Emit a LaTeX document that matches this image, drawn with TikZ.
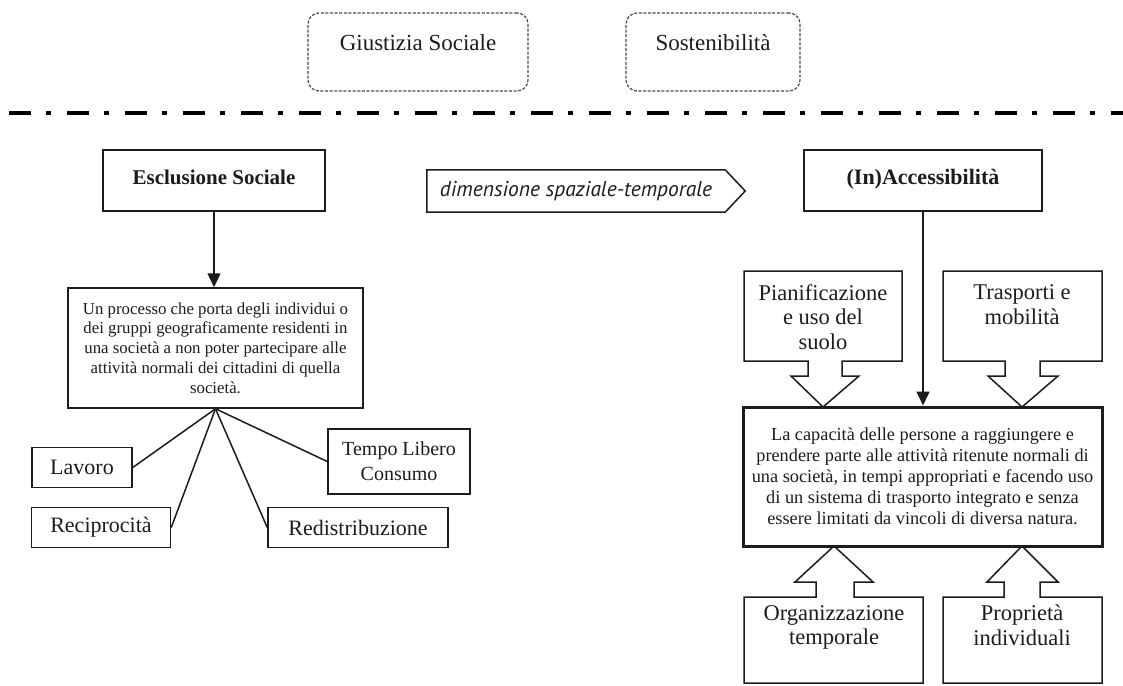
\documentclass[tikz,border=0pt]{standalone}
\usepackage{fontspec}
\setmainfont{Liberation Serif}
\newfontfamily\dimfont{PT Sans}
\usetikzlibrary{arrows.meta,calc}
\definecolor{ink}{HTML}{1C1C1C}
\newcommand\fsz[2]{\fontsize{#1}{#2}\selectfont}

\begin{document}
\begin{tikzpicture}[x=1pt,y=-1pt,
  box/.style={draw=ink, line width=1.5pt, text=ink, inner sep=0pt},
  dashbox/.style={draw=ink!80, line width=1.2pt, dash pattern=on 3pt off 1.6pt,
                  rounded corners=11pt, text=ink, inner sep=0pt},
  lbl/.style={text=ink, inner sep=0pt, align=center},
  conn/.style={draw=ink, line width=1.5pt},
  tip/.style={-{Triangle[length=14pt,width=13pt]}},
  divider/.style={draw=black, line width=4.5pt, dash pattern=on 22pt off 15pt on 5pt off 16pt}
]
\useasboundingbox (0,0) rectangle (1123,685);

% --- themes above the divider
\node[dashbox, minimum width=220pt, minimum height=78pt, font=\fsz{23}{27},
      text height=17pt, text depth=19pt] (gs) at (418,52) {Giustizia Sociale};
\node[dashbox, minimum width=174pt, minimum height=78pt, font=\fsz{23}{27},
      text height=17pt, text depth=19pt] (sos) at (713,52) {Sostenibilità};
\coordinate (divL) at (9,113);
\coordinate (divR) at (1123,113);
\draw[divider] (divL) -- (divR);

% --- social exclusion branch
\node[box, minimum width=222pt, minimum height=61pt, font=\fsz{21}{25}\bfseries,
      text height=15pt, text depth=8pt] (excl) at (214,180.5) {Esclusione Sociale};
\node[box, minimum width=295pt, minimum height=120pt, align=center,
      font=\fsz{16.8}{19.8}] (def) at (215.5,348)
  {Un processo che porta degli individui o\\dei gruppi geograficamente residenti in\\una società a non poter partecipare alle\\attività normali dei cittadini di quella\\società.};
\draw[conn, tip] (excl.south) -- (excl.south |- def.north);

\node[box, minimum width=100pt, minimum height=40pt, font=\fsz{22}{26}] (lav) at (82,467.5) {Lavoro};
\node[box, minimum width=139pt, minimum height=40pt, font=\fsz{22}{26}] (rec) at (101,527.5) {Reciprocità};
\node[box, minimum width=180pt, minimum height=40pt, font=\fsz{22}{26}] (red) at (358,527.5) {Redistribuzione};
\node[box, minimum width=142pt, minimum height=65pt, align=center, font=\fsz{20}{25}] (tl) at (399,461.5) {Tempo Libero\\Consumo};
\coordinate (hub) at (def.south);
\draw[conn] (hub) -- (lav.east);
\draw[conn] (hub) -- (rec.east);
\draw[conn] (hub) -- (red.west);
\draw[conn] (hub) -- (tl.west);

% --- spatial-temporal link
\node[lbl, minimum width=298pt, minimum height=42pt, font=\dimfont\itshape\fsz{21.5}{24}] (dim) at (576,191) {dimensione spaziale-temporale};
\draw[box] (dim.north west) -- (dim.north east) -- ($(dim.east)+(20,0)$) -- (dim.south east) -- (dim.south west) -- cycle;

% --- accessibility branch
\node[box, minimum width=238pt, minimum height=61pt, font=\fsz{22}{26}\bfseries,
      text height=15pt, text depth=8pt] (acc) at (923,180.5) {(In)Accessibilità};
\node[box, line width=3pt, minimum width=359pt, minimum height=139pt, align=center,
      font=\fsz{18.3}{21}] (main) at (922.5,476.5)
  {La capacità delle persone a raggiungere e\\prendere parte alle attività ritenute normali di\\una società, in tempi appropriati e facendo uso\\di un sistema di trasporto integrato e senza\\essere limitati da vincoli di diversa natura.};
\draw[conn, tip] (acc.south) -- (acc.south |- main.north);

% callouts feeding the definition from above
\draw[box] (744,271) -- (902,271) -- (902,361) -- (842,361) -- (842,376) -- (859,376)
  -- (823,407) -- (791,376) -- (808,376) -- (808,361) -- (744,361) -- cycle;
\node[lbl, anchor=north, font=\fsz{22.5}{24.5}] (plan) at (823,284) {Pianificazione\\e uso del\\suolo};
\draw[box] (943,271) -- (1102,271) -- (1102,361) -- (1040,361) -- (1040,376) -- (1058,376)
  -- (1022,407) -- (988,376) -- (1005,376) -- (1005,361) -- (943,361) -- cycle;
\node[lbl, anchor=north, font=\fsz{22.5}{24.5}] (tras) at (1022,284.5) {Trasporti e\\mobilità};

% callouts feeding the definition from below
\draw[box] (744,597) -- (816,597) -- (816,582) -- (795,582) -- (834,546) -- (873,582)
  -- (854,582) -- (854,597) -- (923,597) -- (923,683) -- (744,683) -- cycle;
\node[lbl, anchor=north, font=\fsz{22.5}{24.5}] (org) at (834,605) {Organizzazione\\temporale};
\draw[box] (943,597) -- (1004,597) -- (1004,582) -- (987,582) -- (1022,546) -- (1058,582)
  -- (1040,582) -- (1040,597) -- (1102,597) -- (1102,683) -- (943,683) -- cycle;
\node[lbl, anchor=north, font=\fsz{22.5}{24.5}] (prop) at (1022,605) {Proprietà\\individuali};
\end{tikzpicture}
\end{document}
